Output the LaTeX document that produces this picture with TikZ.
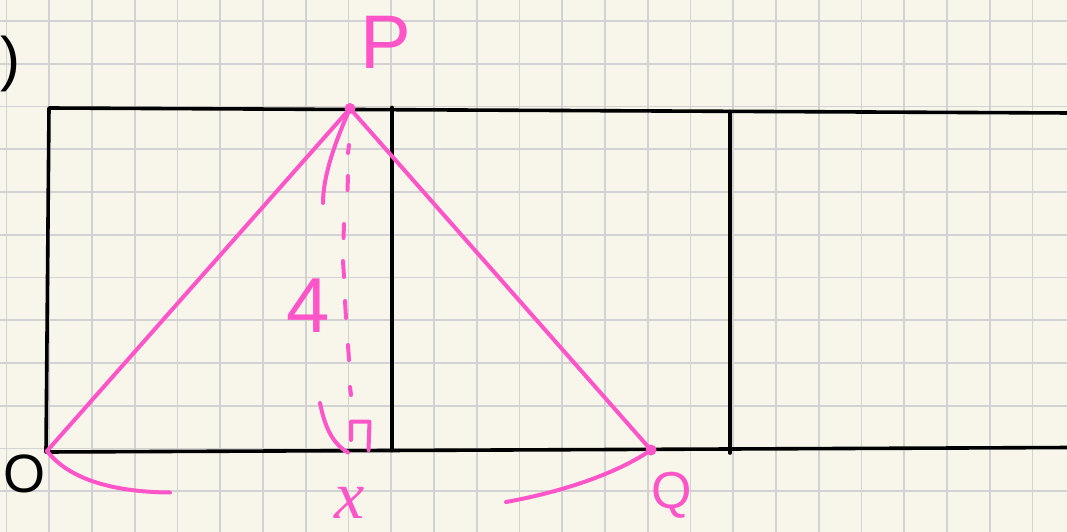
\documentclass[tikz,border=0pt]{standalone}
\usepackage{fontspec}
\setmainfont{Liberation Sans}
\newfontfamily\serifit{Liberation Serif}
\begin{document}
\begin{tikzpicture}[x=1pt,y=-1pt,
  gridline/.style={draw=gridgray,line width=1.8pt},
  frame/.style={draw=black,line width=3.6pt,line cap=round,line join=round},
  pinkline/.style={draw=hotpink,line width=4pt,line cap=round,line join=round},
  pinklabel/.style={text=hotpink,inner sep=0pt},
  blacklabel/.style={text=black,inner sep=0pt},
  dot/.style={circle,fill=hotpink,inner sep=0pt,minimum size=11pt}]
\definecolor{bg}{RGB}{248,246,234}
\definecolor{gridgray}{RGB}{210,210,210}
\definecolor{hotpink}{RGB}{255,85,200}
\useasboundingbox (0,0) rectangle (1067,532);
\fill[bg] (0,0) rectangle (1067,532);
% grid
\foreach \i in {0,...,24} \draw[gridline] ({6.5+42.75*\i},0) -- ({6.5+42.75*\i},532);
\foreach \j in {0,...,11} \draw[gridline] (0,{21+42.75*\j}) -- (1067,{21+42.75*\j});
% frame coordinates
\coordinate (TL) at (49,108);
\coordinate (TR) at (1070,113);
\coordinate (BL) at (46,452);
\coordinate (BR) at (1070,447.5);
\coordinate (V1t) at (392,107.5);
\coordinate (V1b) at (392,450.5);
\coordinate (V2t) at (730,111.5);
\coordinate (V2b) at (730,453);
\draw[frame] (TR) -- (TL) -- (BL) -- (BR);
\draw[frame] (V1t) -- (V1b);
\draw[frame] (V2t) -- (V2b);
% points
\coordinate (O) at (47,451);
\node[dot] (P) at (350,108.5) {};
\node[dot] (Q) at (651,450) {};
\draw[pinkline] (O) -- (P.center) -- (Q.center);
% angle arc at P
\coordinate (pa) at (323,203);
\draw[pinkline] (P.center) .. controls (336,140) and (323,175) .. (pa);
% dashed height
\foreach \xa/\ya/\xb/\yb in {349/145/348/153, 348/176/347.5/190, 344/224/343.5/238, 343/261/344/277, 345/301/346/318, 348/345/349/360, 350/387/351/395}
  \draw[pinkline] (\xa,\ya) -- (\xb,\yb);
% right angle mark
\coordinate (ra1) at (351,440);
\coordinate (ra2) at (351,421.7);
\coordinate (ra3) at (369.5,421.7);
\coordinate (ra4) at (368.5,450);
\draw[pinkline] (ra1) -- (ra2) -- (ra3) -- (ra4);
% tick near bottom
\coordinate (tk1) at (320,403);
\coordinate (tk2) at (348,452.5);
\draw[pinkline] (tk1) .. controls (325,428) and (333,444) .. (tk2);
% arc at O
\coordinate (oa) at (170,492.5);
\draw[pinkline] (O) .. controls (68,478) and (110,492) .. (oa);
% arc at Q
\coordinate (qa) at (506,502);
\draw[pinkline] (Q.center) .. controls (622,470) and (572,490) .. (qa);
% labels
\node[pinklabel,font=\fontsize{76}{78}\selectfont] (Plab) at (386,42) {P};
\node[pinklabel,font=\fontsize{78}{80}\selectfont] (four) at (308,306) {4};
\node[pinklabel,font=\serifit\itshape\fontsize{68}{70}\selectfont] (xlab) at (350,503) {x};
\node[pinklabel,font=\fontsize{52}{54}\selectfont] (Qlab) at (672,495) {Q};
\node[blacklabel,font=\fontsize{54}{56}\selectfont] (Olab) at (25,474) {O};
\node[blacklabel,font=\fontsize{60}{62}\selectfont] (paren) at (10,64) {)};
\end{tikzpicture}
\end{document}
